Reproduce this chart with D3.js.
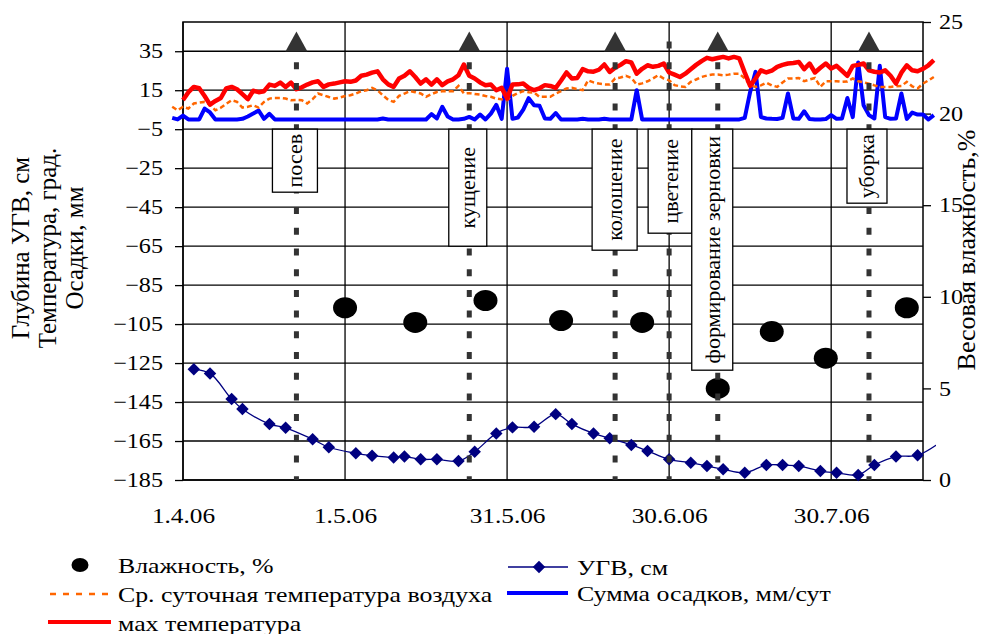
<!DOCTYPE html>
<meta charset="utf-8">
<html>
<head>
  <title>УГВ, температура, осадки, влажность</title>
  <style type="text/css">
    body{margin:0; background:#fff;}
    svg text{font-family:"Liberation Serif","Times New Roman",serif; fill:#000;}
  </style>
</head>
<body>
  <script src="https://cdn.jsdelivr.net/npm/d3@7"></script>
  <script>
    // axis setup
    var xFrom = '1.4.06', xTo = '16.8.06';
    var xTicks = ['1.4.06', '1.5.06', '31.5.06', '30.6.06', '30.7.06'];
    var leftTicks = [-185, -165, -145, -125, -105, -85, -65, -45, -25, -5, 15, 35];
    var rightTicks = [0, 5, 10, 15, 20, 25];

    // daily series
    var dailyStart = '30.3.06';   // avg temperature and precipitation start here
    var maxStart = '1.4.06';      // max temperature starts here
    var avgTemp = [6.5, 4.7, 6.5, 5.6, 8.2, 8.6, 9, 7.6, 4.7, 6, 8, 9.9, 9, 6.1, 6.5, 7.3, 6.1, 9, 10.7, 11,
      11, 10.7, 9.9, 10, 9.9, 8.2, 10.4, 13.3, 12.4, 11.5, 10.7, 11.2, 12, 12.4, 13.3, 14.5, 15, 16.2, 15, 12.4,
      10, 9, 12.1, 13.3, 14.5, 14, 13.3, 11.6, 13, 14.1, 14.5, 14.5, 14.5, 17.2, 13.3, 13.5, 13, 12.8, 12, 11.6,
      10.7, 10.3, 9.9, 12.1, 13.5, 14.5, 14, 13.8, 11.6, 11.6, 11.6, 13.3, 14.5, 15.9, 16.2, 15.5, 15, 20.1, 19, 18.4,
      18, 17.9, 21, 21.5, 22.4, 21.3, 17.9, 18.5, 19.6, 21, 22.7, 21, 20.1, 17.6, 17, 16.7, 19.3, 20.5, 21.8, 22.5,
      23, 23, 22.7, 23, 23.5, 23.5, 21, 17.6, 16.7, 17.5, 18.9, 17.5, 16.7, 19, 21, 21, 21.3, 19.6, 20.5, 21.3,
      16.7, 19.6, 19.6, 19.6, 19.3, 19.5, 21, 19.6, 19, 18.4, 17.5, 16.7, 16.7, 16.7, 17, 17.2, 19.3, 17, 15.9, 18.4,
      20, 21.8];
    var precip = [0.8, 0, 2, 0, 0, 0, 5.6, 3.6, 0, 0, 0, 0, 0, 0.3, 1.5, 3, 4.6, 0.3, 2.9, 0,
      0, 0, 0, 0, 0, 0, 0, 0, 0, 0, 0, 0, 0, 0, 0, 0, 0, 0, 0, 0.5,
      0, 0, 0, 0, 0, 0, 0, 0, 2.7, 0.5, 6.5, 1.5, 0, 0, 0.3, 1.3, 0, 2.5, 0, 3,
      7.5, 0.3, 26, 0.3, 1, 5, 10.9, 7.3, 7, 0.5, 0.3, 3.3, 0, 0, 0, 0, 0.3, 0, 0, 0,
      0.3, 0, 0, 0, 0, 0, 15, 0, 0, 0, 0, 0, 0, 0, 0, 0, 0, 0, 0, 0,
      0, 0, 0, 0, 0, 0, 0.8, 14.1, 24.4, 1.2, 0.5, 0.3, 0.2, 0.8, 13.3, 0.5, 0.3, 4.2, 0.2, 0,
      0, 0.2, 2.2, 0.3, 0.5, 11, 1.2, 29.2, 7.3, 2.2, 0.5, 27.5, 1.2, 0.3, 0.5, 13.3, 0.3, 3.5, 2.5, 2.5,
      0, 2.2];
    var maxTemp = [10, 14, 16.7, 16, 12, 7.6, 9.5, 11, 15.9, 16.7, 15.5, 13, 10.4, 14.7, 14, 14.5, 17.9, 17.2, 18.9, 16.7,
      18.9, 15.5, 16.5, 17.9, 19, 19.6, 16.7, 18, 18.4, 19, 19.6, 19.3, 20, 22.4, 23, 24, 24.7, 20.6, 18, 16.7,
      21, 22.4, 24.7, 21.8, 18.4, 20.6, 17.9, 20.6, 17.6, 19.5, 20.6, 22.7, 28.2, 22.4, 21, 19, 17.6, 17.9, 15, 16.2,
      10.7, 17.9, 18, 18.4, 16.2, 15, 16, 17.6, 17.2, 16.2, 20, 24.1, 21, 21.3, 25.8, 24.7, 24.5, 25.5, 28.2, 24.4,
      26.5, 28, 29.9, 29.2, 23.5, 26, 27.8, 27, 27.5, 28.7, 24.1, 23, 21.8, 23.5, 25.8, 28, 29.9, 31.6, 30.9, 31.5,
      32.1, 31.3, 32.1, 31.3, 24, 17.2, 21, 25.2, 24.1, 25, 27, 28, 28.7, 29, 29.5, 25.8, 28.7, 24.1, 26.5, 28.7,
      26.1, 27.5, 25, 22.4, 27.5, 28, 28.7, 25.2, 24.5, 24.1, 25.2, 22.4, 18.4, 24, 27.8, 25.2, 24.7, 26, 27.8, 30.4];

    // ground water level (УГВ), cm
    var ugvDates = ['3.4.06', '6.4.06', '10.4.06', '12.4.06', '17.4.06', '20.4.06', '25.4.06', '28.4.06',
      '3.5.06', '6.5.06', '10.5.06', '12.5.06', '15.5.06', '18.5.06', '22.5.06', '25.5.06', '29.5.06',
      '1.6.06', '5.6.06', '9.6.06', '12.6.06', '16.6.06', '19.6.06', '23.6.06', '26.6.06', '30.6.06',
      '4.7.06', '7.7.06', '10.7.06', '14.7.06', '18.7.06', '21.7.06', '24.7.06', '28.7.06', '31.7.06',
      '4.8.06', '7.8.06', '11.8.06', '15.8.06', '20.8.06'];
    var ugvValues = [-128.2, -130.3, -143.5, -148.6, -156.3, -158.2, -164.1, -168.2,
      -171.3, -172.5, -173.4, -173, -174.4, -174.4, -175.3, -170.5, -161.1,
      -158, -157.7, -151.2, -156.3, -161.1, -163.6, -167, -170.1, -174.4,
      -176.1, -177.8, -179.5, -181.3, -177.3, -177.3, -177.8, -180.4, -181.3,
      -182.4, -177.3, -173, -172.3, -164];

    // soil moisture (right axis), %
    var humDates = ['1.5.06', '14.5.06', '27.5.06', '10.6.06', '25.6.06', '9.7.06', '19.7.06', '29.7.06', '13.8.06'];
    var humValues = [9.4, 8.6, 9.8, 8.7, 8.6, 5.0, 8.1, 6.65, 9.4];

    // crop phases
    var phaseNames = ['посев', 'кущение', 'колошение', 'цветение', 'формирование зерновки', 'уборка'];
    var phaseDates = ['22.4.06', '24.5.06', '20.6.06', '30.6.06', '9.7.06', '6.8.06'];
    var phaseMarked = [true, true, true, false, true, true];
    var phaseMarkLevel = 40;

    var legendNames = ['Влажность, %', 'УГВ, см', 'Ср. суточная температура воздуха',
      'Сумма осадков, мм/сут', 'мах температура'];

    var width = 997, height = 634;
    var pLeft = 183, pRight = 923, pTop = 22, pBottom = 480;
    var textK = 1.15; // horizontal text is drawn a bit wide, as in the source

    // label box layout (px): height, width, shift from the phase line
    var boxH = [63, 117, 121, 104, 241, 74];
    var boxW = [45, 38, 45, 44, 41, 40];
    var boxDx = [-1.5, -1.5, -0.5, 1, -5.5, -2];

    var parse = d3.utcParse('%d.%m.%y');

    var svg = d3.select('body').append('svg')
      .attr('width', width)
      .attr('height', height);

    var x = d3.scaleUtc()
      .domain([parse(xFrom), parse(xTo)])
      .range([pLeft, pRight]);
    var yL = d3.scaleLinear().domain([-185, 50]).range([pBottom, pTop]);
    var yR = d3.scaleLinear().domain([0, 25]).range([pBottom, pTop]);

    function stretch(sel, k){
      sel.each(function(){
        var t = d3.select(this), tx = parseFloat(t.attr('x')) || 0;
        t.attr('transform', 'translate(' + tx + ',0) scale(' + (k || textK) + ',1) translate(' + (-tx) + ',0)');
      });
    }

    function daily(start, arr){
      var s = parse(start);
      return arr.map(function(v, i){ return {date: d3.utcDay.offset(s, i), v: v}; });
    }

    // grid
    var grid = svg.append('g');
    grid.selectAll('.h').data(leftTicks).enter().append('line')
      .attr('x1', pLeft).attr('x2', pRight)
      .attr('y1', function(d){ return yL(d); }).attr('y2', function(d){ return yL(d); })
      .attr('stroke', '#000').attr('stroke-width', 1.3);
    grid.selectAll('.v').data(xTicks.map(parse)).enter().append('line')
      .attr('x1', function(d){ return x(d); }).attr('x2', function(d){ return x(d); })
      .attr('y1', pTop).attr('y2', pBottom)
      .attr('stroke', '#000').attr('stroke-width', 1.3);
    svg.append('rect')
      .attr('x', pLeft).attr('y', pTop)
      .attr('width', pRight - pLeft).attr('height', pBottom - pTop)
      .attr('fill', 'none').attr('stroke', '#000').attr('stroke-width', 1.5);

    // axes
    var axL = svg.append('g')
      .attr('transform', 'translate(' + pLeft + ',0)')
      .call(d3.axisLeft(yL).tickValues(leftTicks).tickSize(8).tickSizeOuter(0).tickPadding(12));
    var axR = svg.append('g')
      .attr('transform', 'translate(' + pRight + ',0)')
      .call(d3.axisRight(yR).tickValues(rightTicks).tickSize(8).tickSizeOuter(0).tickPadding(8));
    var axB = svg.append('g')
      .attr('transform', 'translate(0,' + pBottom + ')')
      .call(d3.axisBottom(x).tickValues(xTicks.map(parse)).tickSize(0).tickSizeOuter(0).tickPadding(27)
        .tickFormat(d3.utcFormat('%-d.%-m.%y')));
    [axL, axR, axB].forEach(function(a){
      a.select('.domain').remove();
      a.selectAll('line').attr('stroke', '#000').attr('stroke-width', 1.3);
      a.selectAll('text').style('font-size', '21px');
    });
    axB.selectAll('text').style('font-size', '22px');
    stretch(axL.selectAll('text'));
    stretch(axR.selectAll('text'));
    stretch(axB.selectAll('text'));

    // daily lines
    var line = d3.line()
      .x(function(d){ return x(d.date); })
      .y(function(d){ return yL(d.v); });

    svg.append('path').datum(daily(dailyStart, precip))
      .attr('d', line).attr('fill', 'none')
      .attr('stroke', '#0000ff').attr('stroke-width', 4).attr('stroke-linejoin', 'round');
    svg.append('path').datum(daily(dailyStart, avgTemp))
      .attr('d', line).attr('fill', 'none')
      .attr('stroke', '#ff6600').attr('stroke-width', 2.5).attr('stroke-dasharray', '5,3');
    svg.append('path').datum(daily(maxStart, maxTemp))
      .attr('d', line).attr('fill', 'none')
      .attr('stroke', '#ff0000').attr('stroke-width', 4.5).attr('stroke-linejoin', 'round');

    // soil moisture dots
    svg.selectAll('.hum').data(humDates.map(function(d, i){ return {date: parse(d), v: humValues[i]}; }))
      .enter().append('ellipse')
      .attr('cx', function(d){ return x(d.date); })
      .attr('cy', function(d){ return yR(d.v); })
      .attr('rx', 12).attr('ry', 10.5)
      .attr('fill', '#000');

    // ground water level
    svg.append('clipPath').attr('id', 'clip')
      .append('rect').attr('x', 160).attr('y', 0).attr('width', 776).attr('height', height);
    var ugv = ugvDates.map(function(d, i){ return {date: parse(d), v: ugvValues[i]}; });
    var gU = svg.append('g').attr('clip-path', 'url(#clip)');
    gU.append('path').datum(ugv)
      .attr('d', d3.line().curve(d3.curveCatmullRom)
        .x(function(d){ return x(d.date); }).y(function(d){ return yL(d.v); }))
      .attr('fill', 'none').attr('stroke', '#000080').attr('stroke-width', 1.3);
    var diamond = d3.symbol().type(d3.symbolSquare).size(78);
    gU.selectAll('.dm').data(ugv).enter().append('path')
      .attr('d', diamond)
      .attr('transform', function(d){ return 'translate(' + x(d.date) + ',' + yL(d.v) + ') rotate(45)'; })
      .attr('fill', '#000080');

    // phases: dotted lines, boxes, triangles
    var phases = phaseNames.map(function(n, i){
      return {name: n, date: parse(phaseDates[i]), mark: phaseMarked[i], h: boxH[i], w: boxW[i], dx: boxDx[i]};
    });
    svg.selectAll('.pl').data(phases).enter().append('line')
      .attr('x1', function(d){ return x(d.date); }).attr('x2', function(d){ return x(d.date); })
      .attr('y1', yL(phaseMarkLevel)).attr('y2', pBottom)
      .attr('stroke', '#333').attr('stroke-width', 5).attr('stroke-dasharray', '7,13.7');

    var boxTop = yL(-5);
    var pg = svg.selectAll('.pb').data(phases).enter().append('g');
    pg.append('rect')
      .attr('x', function(d){ return x(d.date) + d.dx - d.w / 2; })
      .attr('y', boxTop)
      .attr('width', function(d){ return d.w; })
      .attr('height', function(d){ return d.h; })
      .attr('fill', '#fff').attr('stroke', '#000').attr('stroke-width', 1.3);
    pg.append('text')
      .text(function(d){ return d.name; })
      .style('font-size', '22px')
      .attr('text-anchor', 'middle')
      .attr('dominant-baseline', 'central')
      .attr('transform', function(d){
        return 'translate(' + (x(d.date) + d.dx) + ',' + (boxTop + d.h / 2) + ') rotate(-90)';
      });

    svg.selectAll('.tri').data(phases.filter(function(d){ return d.mark; })).enter().append('path')
      .attr('d', 'M0,-10L11,10L-11,10Z')
      .attr('transform', function(d){ return 'translate(' + x(d.date) + ',' + yL(phaseMarkLevel) + ')'; })
      .attr('fill', '#333');

    // axis titles
    var lt = svg.append('text')
      .attr('transform', 'translate(48,248) rotate(-90)')
      .attr('text-anchor', 'middle')
      .style('font-size', '25px');
    ['Глубина УГВ, см', 'Температура, град.', 'Осадки, мм'].forEach(function(s, i){
      lt.append('tspan').attr('x', 0).attr('y', (i - 1) * 27 + 8).text(s);
    });
    svg.append('text')
      .attr('transform', 'translate(966,250) rotate(-90)')
      .attr('text-anchor', 'middle')
      .attr('dominant-baseline', 'central')
      .style('font-size', '26px')
      .text('Весовая влажность,%');

    // legend
    var lg = svg.append('g').style('font-size', '21px');
    lg.append('ellipse').attr('cx', 80).attr('cy', 565).attr('rx', 8.5).attr('ry', 7).attr('fill', '#000');
    lg.append('line').attr('x1', 50).attr('x2', 108).attr('y1', 594).attr('y2', 594)
      .attr('stroke', '#ff6600').attr('stroke-width', 2.5).attr('stroke-dasharray', '6,7');
    lg.append('line').attr('x1', 48).attr('x2', 111).attr('y1', 622).attr('y2', 622)
      .attr('stroke', '#ff0000').attr('stroke-width', 4);
    lg.append('line').attr('x1', 508).attr('x2', 568).attr('y1', 567).attr('y2', 567)
      .attr('stroke', '#000080').attr('stroke-width', 1.3);
    lg.append('path').attr('d', diamond).attr('transform', 'translate(539,567) rotate(45)').attr('fill', '#000080');
    lg.append('line').attr('x1', 507).attr('x2', 568).attr('y1', 593).attr('y2', 593)
      .attr('stroke', '#0000ff').attr('stroke-width', 4);
    var lpos = [[118, 573], [577, 575], [118, 602], [577, 601], [118, 631]];
    lg.selectAll('.lt').data(legendNames).enter().append('text')
      .attr('x', function(d, i){ return lpos[i][0]; })
      .attr('y', function(d, i){ return lpos[i][1]; })
      .text(function(d){ return d; });
    stretch(lg.selectAll('text'), 1.23);
  </script>
</body>
</html>
